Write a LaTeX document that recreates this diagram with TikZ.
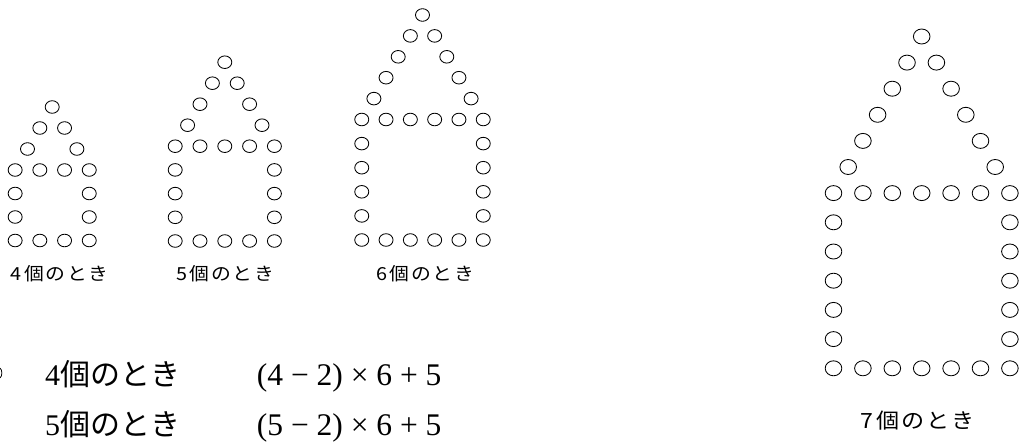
\documentclass[tikz,border=0pt]{standalone}
\usepackage{fontspec}
\setmainfont{Liberation Serif}
\newfontfamily\jplab[FakeStretch=1.1,LetterSpace=10]{Noto Sans CJK JP}
\newfontfamily\jpmain{Noto Sans CJK JP}
\tikzset{
  bead/.style={draw=black, line width=0.85pt},
  lab/.style={inner sep=0pt, anchor=west, font=\jplab\fontsize{18}{18}\selectfont},
  biglab/.style={inner sep=0pt, anchor=west, font=\jplab\fontsize{21}{21}\selectfont},
  eqtext/.style={inner sep=0pt, anchor=base west, font=\fontsize{30}{30}\selectfont},
  formula/.style={inner sep=0pt, anchor=base west, font=\fontsize{31.5}{31.5}\selectfont}
}
% #1 cx, #2 ybottom, #3 n, #4 col step, #5 body step, #6 roof step, #7 rx, #8 ry
\newcommand{\housefig}[8]{%
  \pgfmathtruncatemacro{\hnm}{#3-1}%
  \pgfmathtruncatemacro{\hnmm}{#3-2}%
  \pgfmathsetmacro{\hytop}{#2-\hnm*#5}%
  \foreach \i in {0,...,\hnm}{%
    \pgfmathsetmacro{\xx}{#1+(\i-\hnm/2)*#4}%
    \draw[bead] (\xx,#2) ellipse[x radius=#7pt, y radius=#8pt];
    \draw[bead] (\xx,\hytop) ellipse[x radius=#7pt, y radius=#8pt];
  }%
  \foreach \j in {1,...,\hnmm}{%
    \pgfmathsetmacro{\yy}{#2-\j*#5}%
    \pgfmathsetmacro{\xl}{#1-\hnm/2*#4}%
    \pgfmathsetmacro{\xr}{#1+\hnm/2*#4}%
    \draw[bead] (\xl,\yy) ellipse[x radius=#7pt, y radius=#8pt];
    \draw[bead] (\xr,\yy) ellipse[x radius=#7pt, y radius=#8pt];
  }%
  \foreach \k in {1,...,\hnm}{%
    \pgfmathsetmacro{\yy}{\hytop-\k*#6}%
    \pgfmathsetmacro{\off}{(\hnm/2-\k/2)*#4}%
    \pgfmathsetmacro{\xl}{#1-\off}%
    \pgfmathsetmacro{\xr}{#1+\off}%
    \draw[bead] (\xl,\yy) ellipse[x radius=#7pt, y radius=#8pt];
    \ifdim \off pt>0.1pt
      \draw[bead] (\xr,\yy) ellipse[x radius=#7pt, y radius=#8pt];
    \fi
  }%
}
\begin{document}
\begin{tikzpicture}[x=1pt,y=-1pt]
  \fill[white] (0,0) rectangle (1019,442);
  \useasboundingbox (0,0) rectangle (1019,442);

  \housefig{52.2}{240.5}{4}{24.7}{23.5}{21}{7}{6.3}
  \housefig{224.8}{241}{5}{24.8}{23.7}{21}{7}{6.3}
  \housefig{422.5}{240}{6}{24.3}{24.1}{20.9}{7}{6.3}
  \housefig{921.7}{368.3}{7}{29.4}{29.2}{26.1}{8.3}{7.5}

  \node[lab] (l4) at (10,274) {4\hspace{3pt}個のとき};
  \node[lab] (l5) at (176.7,274) {5個のとき};
  \node[lab] (l6) at (376.7,274) {6個のとき};
  \node[biglab] (l7) at (860,421) {7\hspace{3pt}個のとき};

  \draw[line width=0.8pt] (0,368) .. controls (2.5,370) and (2.5,376) .. (0,378);

  \node[eqtext] (t4) at (45,385) {4{\jpmain 個のとき}};
  \node[eqtext] (t5) at (45,435) {5{\jpmain 個のとき}};
  \node[formula] (f4) at (256.7,385) {(4 − 2) × 6 + 5};
  \node[formula] (f5) at (256.7,435) {(5 − 2) × 6 + 5};
\end{tikzpicture}
\end{document}
